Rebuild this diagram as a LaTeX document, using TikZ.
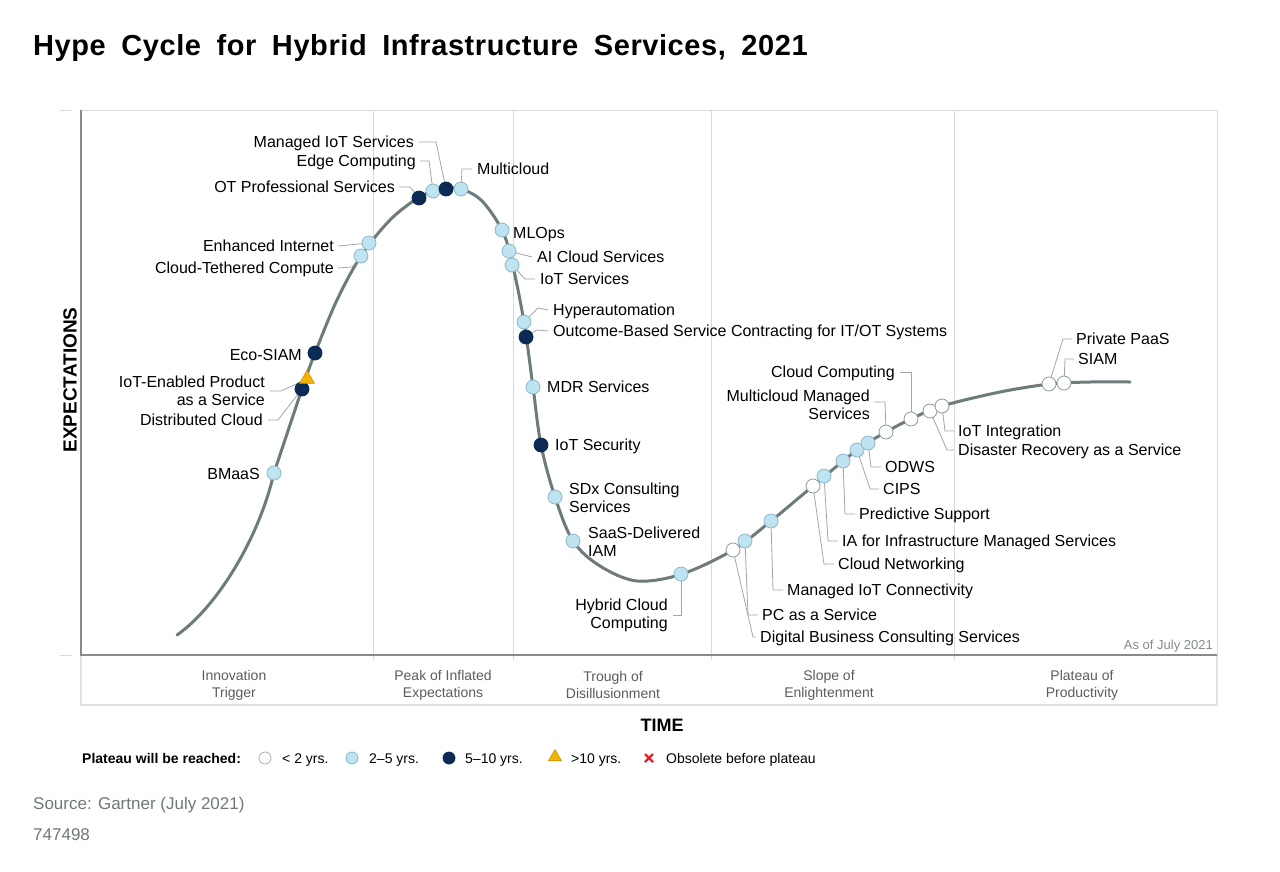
\documentclass[tikz,border=0pt]{standalone}
\usepackage{fontspec}
\setmainfont{Liberation Sans}
\newfontfamily\titlefont[LetterSpace=2,WordSpace=1.8]{Liberation Sans}
\usetikzlibrary{shapes.geometric}
\definecolor{curvegray}{HTML}{6E7B7B}
\definecolor{lblue}{HTML}{BEE3F1}
\definecolor{lblueb}{HTML}{8DB7C7}
\definecolor{navy}{HTML}{0B2A54}
\definecolor{wborder}{HTML}{8C9999}
\definecolor{leadgray}{HTML}{A5A5A5}
\definecolor{gridgray}{HTML}{D9D9D9}
\definecolor{axisgray}{HTML}{8A8A8A}
\definecolor{bandgray}{HTML}{E2E2E2}
\definecolor{phasegray}{HTML}{5C5C5C}
\definecolor{srcgray}{HTML}{707879}
\definecolor{triyellow}{HTML}{F4B400}
\definecolor{tribord}{HTML}{C98F00}
\definecolor{xred}{HTML}{E8202A}
\begin{document}
\begin{tikzpicture}[x=1pt,y=-1pt,
  lab/.style={inner sep=0pt, font=\fontsize{16}{18}\selectfont, text height=11.6pt, text depth=0pt},
  mlab/.style={inner sep=0pt, font=\fontsize{16}{18}\selectfont},
  dot/.style={circle, minimum size=14pt, inner sep=0pt, line width=0.8pt},
  lb/.style={dot, fill=lblue, draw=lblueb},
  nv/.style={dot, fill=navy, draw=navy},
  wt/.style={dot, fill=white, draw=wborder},
  tri/.style={regular polygon, regular polygon sides=3, minimum size=17pt, inner sep=0pt, fill=triyellow, draw=tribord, line width=0.6pt},
  lead/.style={draw=leadgray, line width=0.8pt},
  hype/.style={curvegray, line width=3pt, line cap=round},
  phase/.style={inner sep=0pt, font=\fontsize{14}{17}\selectfont, text=phasegray, align=center},
  leg/.style={inner sep=0pt, font=\fontsize{14}{16}\selectfont, anchor=west, text height=10pt, text depth=0pt},
]
\useasboundingbox (0,0) rectangle (1280,871);
\fill[white] (0,0) rectangle (1280,871);

% frame
\draw[gridgray, line width=1pt] (81,110) -- (1217,110) -- (1217,655);
\foreach \x in {373,513,711,954} \draw[gridgray, line width=1pt] (\x,110) -- (\x,660);
\draw[bandgray, line width=2.5pt] (81,655) -- (81,705) -- (1217,705) -- (1217,655);
\draw[axisgray, line width=1.2pt] (81,110) -- (81,655) -- (1217,655);
\draw[gridgray, line width=1pt] (60,110) -- (72,110);
\draw[gridgray, line width=1pt] (60,655) -- (72,655);

% curve
\draw[hype] (177,635) .. controls (213,610) and (257,545) .. (274,473);
\draw[hype] plot[smooth, tension=0.55] coordinates {
(274,473) (302,389) (315,353) (337,300) (361,256) (390,220) (418,198) (440,189) (461,189) (482,201) (502,230) (512,262) (524,322) (533,387) (541,445) (555,497) (573,541) (600,566) (637,581) (682,574) (733,550) (771,521) (813,486) (857,450) (886,432) (911,419) (942,406) (1000,392) (1050,384) (1090,382) (1130,382)};

% labels
\node[lab, anchor=east] (lmis) at (414,142) {Managed IoT Services};
\node[lab, anchor=east] (ledge) at (416,161) {Edge Computing};
\node[lab, anchor=east] (lot) at (395,187) {OT Professional Services};
\node[lab, anchor=west] (lmc) at (477,169) {Multicloud};
\node[lab, anchor=east] (lei) at (334,246) {Enhanced Internet};
\node[lab, anchor=east] (lctc) at (334,268) {Cloud-Tethered Compute};
\node[lab, anchor=east] (leco) at (302,355) {Eco-SIAM};
\node[mlab, anchor=north east, align=right] (liot) at (265,376) {IoT-Enabled Product\\as a Service};
\node[lab, anchor=east] (ldc) at (263,420) {Distributed Cloud};
\node[lab, anchor=east] (lbm) at (260,474) {BMaaS};
\node[lab, anchor=west] (lml) at (513,233) {MLOps};
\node[lab, anchor=west] (lai) at (537,257) {AI Cloud Services};
\node[lab, anchor=west] (lis) at (540,279) {IoT Services};
\node[lab, anchor=west] (lhy) at (553,310) {Hyperautomation};
\node[lab, anchor=west] (lout) at (553,331) {Outcome-Based Service Contracting for IT/OT Systems};
\node[lab, anchor=west] (lmdr) at (547,387) {MDR Services};
\node[lab, anchor=west] (lsec) at (555,445) {IoT Security};
\node[mlab, anchor=north west, align=left] (lsdx) at (569,483) {SDx Consulting\\Services};
\node[mlab, anchor=north west, align=left] (lsaas) at (588,527) {SaaS-Delivered\\IAM};
\node[mlab, anchor=north east, align=right] (lhc) at (668,599) {Hybrid Cloud\\Computing};
\node[lab, anchor=west] (ldb) at (760,637) {Digital Business Consulting Services};
\node[lab, anchor=west] (lpc) at (762,615) {PC as a Service};
\node[lab, anchor=west] (lmic) at (787,590) {Managed IoT Connectivity};
\node[lab, anchor=west] (lcn) at (838,564) {Cloud Networking};
\node[lab, anchor=west] (lia) at (842,541) {IA for Infrastructure Managed Services};
\node[lab, anchor=west] (lps) at (859,514) {Predictive Support};
\node[lab, anchor=west] (lcips) at (883,489) {CIPS};
\node[lab, anchor=west] (lodws) at (885,467) {ODWS};
\node[mlab, anchor=north east, align=right] (lmcm) at (870,390) {Multicloud Managed\\Services};
\node[lab, anchor=east] (lcc) at (895,372) {Cloud Computing};
\node[lab, anchor=west] (liotint) at (958,431) {IoT Integration};
\node[lab, anchor=west] (ldr) at (958,450) {Disaster Recovery as a Service};
\node[lab, anchor=west] (lpp) at (1076,339) {Private PaaS};
\node[lab, anchor=west] (lsiam) at (1078,359) {SIAM};

% coordinates of dots
\coordinate (p1) at (274,473);
\coordinate (p2) at (302,389);
\coordinate (p3) at (307,379);
\coordinate (p4) at (315,353);
\coordinate (p5) at (361,256);
\coordinate (p6) at (369,243);
\coordinate (p7) at (419,198);
\coordinate (p8) at (433,191);
\coordinate (p9) at (446,189);
\coordinate (p10) at (461,189);
\coordinate (p11) at (502,230);
\coordinate (p12) at (509,251);
\coordinate (p13) at (512,265);
\coordinate (p14) at (524,322);
\coordinate (p15) at (526,337);
\coordinate (p16) at (533,387);
\coordinate (p17) at (541,445);
\coordinate (p18) at (555,497);
\coordinate (p19) at (573,541);
\coordinate (p20) at (681,574);
\coordinate (p21) at (733,550);
\coordinate (p22) at (745,541);
\coordinate (p23) at (771,521);
\coordinate (p24) at (813,486);
\coordinate (p25) at (824,476);
\coordinate (p26) at (843,461);
\coordinate (p27) at (857,450);
\coordinate (p28) at (868,443);
\coordinate (p29) at (886,432);
\coordinate (p30) at (911,419);
\coordinate (p31) at (930,411);
\coordinate (p32) at (942,406);
\coordinate (p33) at (1049,384);
\coordinate (p34) at (1064,383);

% leaders
\draw[lead] ([xshift=5pt]lmis.east) -- (436,142) -- (p9);
\draw[lead] ([xshift=4pt]ledge.east) -- (429,161) -- (p8);
\draw[lead] ([xshift=4pt]lot.east) -- (410,187) -- (p7);
\draw[lead] ([xshift=-5pt]lmc.west) -- (462,169) -- (p10);
\draw[lead] ([xshift=4pt]lei.east) -- (p6);
\draw[lead] ([xshift=4pt]lctc.east) -- (352,267) -- (p5);
\draw[lead] ([xshift=5pt]liot.east) -- ++(11,0) -- (p3);
\draw[lead] ([xshift=5pt]ldc.east) -- (278,420) -- (p2);
\draw[lead] ([xshift=-5pt]lai.west) -- (p12);
\draw[lead] ([xshift=-5pt]lis.west) -- (525,279) -- (p13);
\draw[lead] ([xshift=-5pt]lhy.west) -- (538,308) -- (p14);
\draw[lead] ([xshift=-5pt]lout.west) -- (537,330) -- (p15);
\draw[lead] ([xshift=5pt]lhc.east) -| (p20);
\draw[lead] ([xshift=-4pt]ldb.west) -- (753,637) -- (p21);
\draw[lead] ([xshift=-4pt]lpc.west) -- (748,615) -- (p22);
\draw[lead] ([xshift=-4pt]lmic.west) -- (773,590) -- (p23);
\draw[lead] ([xshift=-4pt]lcn.west) -- (824,564) -- (p24);
\draw[lead] ([xshift=-4pt]lia.west) -- (828,541) -- (p25);
\draw[lead] ([xshift=-4pt]lps.west) -- (845,514) -- (p26);
\draw[lead] ([xshift=-4pt]lcips.west) -- (870,489) -- (p27);
\draw[lead] ([xshift=-4pt]lodws.west) -- (871,467) -- (p28);
\draw[lead] (874,402) -- (885,402) -- (p29);
\draw[lead] ([xshift=5pt]lcc.east) -- (911,372) -- (p30);
\draw[lead] ([xshift=-4pt]liotint.west) -- (945,431) -- (p32);
\draw[lead] ([xshift=-4pt]ldr.west) -- (947,450) -- (p31);
\draw[lead] ([xshift=-4pt]lpp.west) -- (1063,339) -- (p33);
\draw[lead] ([xshift=-4pt]lsiam.west) -- (1065,359) -- (p34);

% dots
\node[lb] (c1) at (p1) {};
\node[nv] (c2) at (p2) {};
\node[tri] (t3) at (p3) {};
\node[nv] (c4) at (p4) {};
\node[lb] (c5) at (p5) {};
\node[lb] (c6) at (p6) {};
\node[nv] (c7) at (p7) {};
\node[lb] (c8) at (p8) {};
\node[nv] (c9) at (p9) {};
\node[lb] (c10) at (p10) {};
\node[lb] (c11) at (p11) {};
\node[lb] (c12) at (p12) {};
\node[lb] (c13) at (p13) {};
\node[lb] (c14) at (p14) {};
\node[nv] (c15) at (p15) {};
\node[lb] (c16) at (p16) {};
\node[nv] (c17) at (p17) {};
\node[lb] (c18) at (p18) {};
\node[lb] (c19) at (p19) {};
\node[lb] (c20) at (p20) {};
\node[wt] (c21) at (p21) {};
\node[lb] (c22) at (p22) {};
\node[lb] (c23) at (p23) {};
\node[wt] (c24) at (p24) {};
\node[lb] (c25) at (p25) {};
\node[lb] (c26) at (p26) {};
\node[lb] (c27) at (p27) {};
\node[lb] (c28) at (p28) {};
\node[wt] (c29) at (p29) {};
\node[wt] (c30) at (p30) {};
\node[wt] (c31) at (p31) {};
\node[wt] (c32) at (p32) {};
\node[wt] (c33) at (p33) {};
\node[wt] (c34) at (p34) {};

% phases
\node[phase] (ph1) at (234,685) {Innovation\\Trigger};
\node[phase] (ph2) at (443,685) {Peak of Inflated\\Expectations};
\node[phase] (ph3) at (613,685) {Trough of\\Disillusionment};
\node[phase] (ph4) at (829,685) {Slope of\\Enlightenment};
\node[phase] (ph5) at (1082,685) {Plateau of\\Productivity};
\node[inner sep=0pt, anchor=east, font=\fontsize{13}{15}\selectfont, text=srcgray!85] (asof) at (1213,646) {As of July 2021};

% axes titles
\node[rotate=90, inner sep=0pt, font=\bfseries\fontsize{19}{22}\selectfont] (ylab) at (70,380) {EXPECTATIONS};
\node[inner sep=0pt, font=\bfseries\fontsize{18}{21}\selectfont] (xlab) at (662,725) {TIME};

% legend
\node[leg, font=\bfseries\fontsize{14}{16}\selectfont] (legt) at (82,758) {Plateau will be reached:};
\node[wt, minimum size=12pt, draw=gridgray!80!black] (lg1) at (265,758) {};
\node[leg] (lgt1) at (282,758) {< 2 yrs.};
\node[lb, minimum size=12pt] (lg2) at (352,758) {};
\node[leg] (lgt2) at (369,758) {2–5 yrs.};
\node[nv, minimum size=12pt] (lg3) at (449,758) {};
\node[leg] (lgt3) at (465,758) {5–10 yrs.};
\node[tri, minimum size=15pt] (lg4) at (555,757) {};
\node[leg] (lgt4) at (571,758) {>10 yrs.};
\node[inner sep=0pt, minimum size=10pt] (lg5) at (649,758) {};
\draw[xred, line width=2.2pt] ([shift={(-4,-4)}]lg5.center) -- ([shift={(4,4)}]lg5.center);
\draw[xred, line width=2.2pt] ([shift={(-4,4)}]lg5.center) -- ([shift={(4,-4)}]lg5.center);
\node[leg] (lgt5) at (666,758) {Obsolete before plateau};

% title and source
\node[anchor=base west, inner sep=0pt, font=\titlefont\bfseries\fontsize{29}{33}\selectfont] (title) at (33,55) {Hype Cycle for Hybrid Infrastructure Services, 2021};
\node[anchor=base west, inner sep=0pt, font=\fontsize{17}{20}\selectfont, text=srcgray] (src) at (33,809) {Source: Gartner (July 2021)};
\node[anchor=base west, inner sep=0pt, font=\fontsize{17}{20}\selectfont, text=srcgray] (docid) at (33,840) {747498};
\end{tikzpicture}
\end{document}
